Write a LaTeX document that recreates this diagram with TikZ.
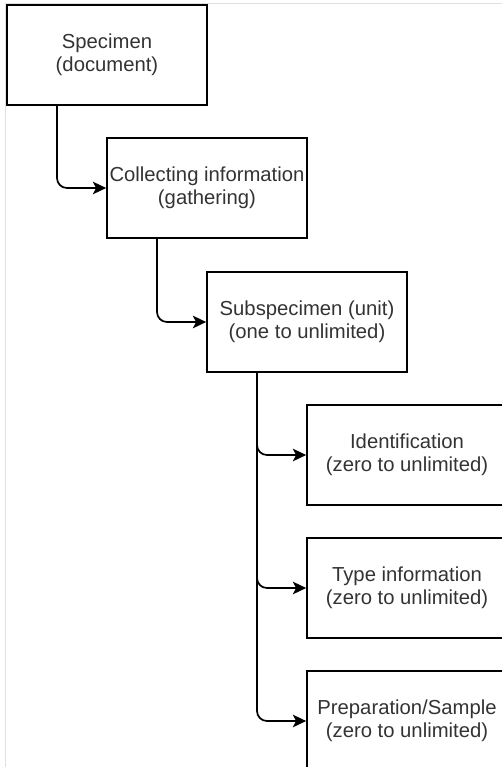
\documentclass[tikz,border=0pt]{standalone}
\usepackage{fontspec}
\setmainfont{Liberation Sans}
\usetikzlibrary{arrows.meta}

\begin{document}
\begin{tikzpicture}[x=0.75pt,y=-0.75pt,
    box/.style={draw,line width=1.3pt,minimum width=150pt,minimum height=75pt,align=center,inner sep=0pt,
        font=\fontsize{15.2pt}{17.5pt}\selectfont,text=black!80},
    link/.style={line width=1.3pt,rounded corners=7.5pt,-{Stealth[length=10pt,width=9.5pt,inset=2.5pt]}}]

    \useasboundingbox (0,0) rectangle (502,767);
    \draw[black!12] (5,767)--(5,3)--(502,3);

    % main chain
    \node[box] (spec) at (107,55) {Specimen\\(document)};
    \node[box] (coll) at (207,188) {Collecting information\\(gathering)};
    \node[box] (sub) at (307,322) {Subspecimen (unit)\\(one to unlimited)};

    % children of the subspecimen
    \node[box] (ident) at (407,455) {Identification\\(zero to unlimited)};
    \node[box] (type) at (407,588) {Type information\\(zero to unlimited)};
    \node[box] (prep) at (407,721) {Preparation/Sample\\(zero to unlimited)};

    \draw[link] ([xshift=-37.5pt]spec.south) |- (coll.west);
    \draw[link] ([xshift=-37.5pt]coll.south) |- (sub.west);
    \coordinate (trunk) at ([xshift=-37.5pt]sub.south);
    \foreach \n in {ident,type,prep}
        \draw[link] (trunk) |- (\n.west);

\end{tikzpicture}
\end{document}
